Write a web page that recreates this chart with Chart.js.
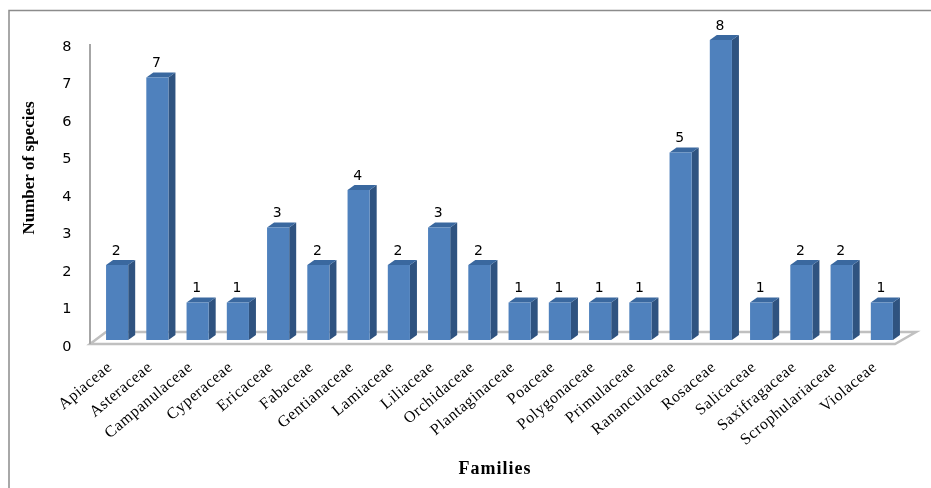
<!DOCTYPE html>
<html>
<head>
<meta charset="utf-8">
<style>
html, body { margin: 0; padding: 0; background: #fff; }
#wrap { width: 931px; height: 488px; }
</style>
<script src="https://cdn.jsdelivr.net/npm/chart.js@4"></script>
</head>
<body>
<div id="wrap"><canvas id="chart"></canvas></div>
<script>
const families = ['Apiaceae', 'Asteraceae', 'Campanulaceae', 'Cyperaceae', 'Ericaceae', 'Fabaceae',
    'Gentianaceae', 'Lamiaceae', 'Liliaceae', 'Orchidaceae', 'Plantaginaceae', 'Poaceae', 'Polygonaceae',
    'Primulaceae', 'Rananculaceae', 'Rosaceae', 'Salicaceae', 'Saxifragaceae', 'Scrophulariaceae', 'Violaceae'];
const species = [2, 7, 1, 1, 3, 2, 4, 2, 3, 2, 1, 1, 1, 1, 5, 8, 1, 2, 2, 1];
const yTicks = [0, 1, 2, 3, 4, 5, 6, 7, 8];

const shiftX = 7, shiftY = -7;   // front face sits a bit behind the axis corner
const depthX = 7, depthY = -5;   // depth of the fake 3D bars
const axisUp = 3;                // axis lines sit above the tick label centres

// Fake 3D: floor, bar sides and value labels
const fake3d = {
    id: 'fake3d',
    beforeDraw(chart) {
        // stretched look of the category labels
        chart.ctx.letterSpacing = '0.6px';
    },
    beforeDatasetsDraw(chart) {
        const { ctx, chartArea: a } = chart;
        const bottom = a.bottom - axisUp;
        ctx.save();
        ctx.strokeStyle = '#c0c0c0';
        ctx.lineWidth = 2.5;
        ctx.beginPath();
        ctx.moveTo(a.left, bottom);
        ctx.lineTo(a.left + 16, bottom - 12);
        ctx.lineTo(a.right + 21, bottom - 12);
        ctx.lineTo(a.right, bottom);
        ctx.closePath();
        ctx.stroke();
        // y axis line
        ctx.strokeStyle = '#a6a6a6';
        ctx.lineWidth = 2;
        ctx.beginPath();
        ctx.moveTo(a.left, a.top - axisUp);
        ctx.lineTo(a.left, bottom);
        ctx.stroke();
        ctx.restore();

        // bars get drawn shifted
        ctx.save();
        ctx.translate(shiftX, shiftY);
        chart.getDatasetMeta(0).data.forEach(bar => {
            const l = bar.x - bar.width / 2, r = bar.x + bar.width / 2;
            ctx.fillStyle = '#2f5380';
            ctx.beginPath();
            ctx.moveTo(r, bar.y);
            ctx.lineTo(r + depthX, bar.y + depthY);
            ctx.lineTo(r + depthX, bar.base + depthY);
            ctx.lineTo(r, bar.base);
            ctx.closePath();
            ctx.fill();
            ctx.fillStyle = '#3a689f';
            ctx.beginPath();
            ctx.moveTo(l, bar.y);
            ctx.lineTo(l + depthX, bar.y + depthY);
            ctx.lineTo(r + depthX, bar.y + depthY);
            ctx.lineTo(r, bar.y);
            ctx.closePath();
            ctx.fill();
        });
    },
    afterDatasetsDraw(chart) {
        const { ctx } = chart;
        ctx.restore();
        ctx.save();
        ctx.letterSpacing = '0px';
        ctx.fillStyle = '#000';
        ctx.font = '14px "DejaVu Sans"';
        ctx.textAlign = 'center';
        ctx.textBaseline = 'middle';
        chart.getDatasetMeta(0).data.forEach((bar, i) => {
            ctx.fillText(species[i], bar.x + shiftX - 1, bar.y + shiftY - 14);
        });
        ctx.restore();
    },
    afterDraw(chart) {
        const { ctx } = chart;
        ctx.save();
        ctx.letterSpacing = '0px';
        // outer frame
        ctx.strokeStyle = '#8c8c8c';
        ctx.lineWidth = 1.5;
        ctx.beginPath();
        ctx.moveTo(9, 488);
        ctx.lineTo(9, 10.5);
        ctx.lineTo(931, 10.5);
        ctx.stroke();
        ctx.fillStyle = '#000';
        ctx.textAlign = 'center';
        ctx.textBaseline = 'middle';
        // x axis title
        ctx.font = 'bold 18px "Liberation Serif"';
        ctx.letterSpacing = '1px';
        ctx.fillText('Families', 495, 469);
        ctx.letterSpacing = '0px';
        // y axis title
        ctx.translate(30, 168);
        ctx.rotate(-Math.PI / 2);
        ctx.font = 'bold 17px "Liberation Serif"';
        ctx.fillText('Number of species', 0, 0);
        ctx.restore();
    }
};

new Chart(document.getElementById('chart').getContext('2d'), {
    type: 'bar',
    data: {
        labels: families,
        datasets: [{
            label: 'Number of species',
            data: species,
            backgroundColor: '#4f81bd',
            borderWidth: 0,
            categoryPercentage: 1,
            barPercentage: 0.55,
            clip: false,
        }],
    },
    options: {
        responsive: true,
        maintainAspectRatio: false,
        animation: false,
        layout: { padding: { top: 47, right: 36, left: 0, bottom: 0 } },
        plugins: { legend: { display: false }, tooltip: { enabled: false } },
        scales: {
            x: {
                grid: { display: false, drawTicks: false },
                border: { display: false },
                afterFit: s => { s.height = 141; },
                ticks: {
                    color: '#000',
                    font: { family: '"Liberation Serif"', size: 16 },
                    maxRotation: 40,
                    minRotation: 40,
                    autoSkip: false,
                    padding: 11,
                },
            },
            y: {
                min: 0,
                max: 8,
                afterFit: s => { s.width = 90; },
                afterBuildTicks: s => { s.ticks = yTicks.map(v => ({ value: v })); },
                grid: { display: false, drawTicks: false },
                border: { display: false },
                ticks: {
                    color: '#000',
                    font: { family: '"DejaVu Sans"', size: 14.5 },
                    padding: 18,
                },
            },
        },
    },
    plugins: [fake3d],
});
</script>
</body>
</html>
